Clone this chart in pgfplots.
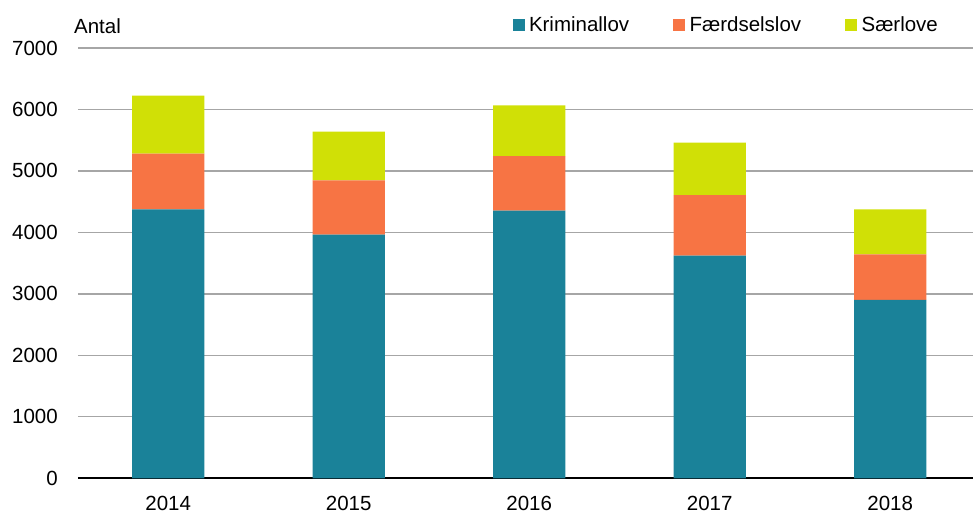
\documentclass[border=0pt]{standalone}
\usepackage{fontspec}
\setmainfont{Liberation Sans}
\usepackage{pgfplots}
\pgfplotsset{compat=1.18}
\definecolor{krim}{HTML}{1A8299}
\definecolor{faerd}{HTML}{F77444}
\definecolor{saer}{HTML}{D0E006}
\definecolor{gridc}{HTML}{A6A6A6}
\begin{document}
\begin{tikzpicture}
\begin{axis}[
  name=ax,
  at={(0,0)}, anchor=south west,
  scale only axis,
  width=896bp, height=430.7bp,
  ybar stacked,
  bar width=0.4,
  xmin=-0.5, xmax=4.46,
  ymin=0, ymax=7000,
  ytick={0,1000,...,7000},
  xtick=data,
  xticklabels={2014,2015,2016,2017,2018},
  /pgf/number format/assume math mode=true,
  /pgf/number format/1000 sep={},
  tick label style={font=\fontsize{20.5bp}{24bp}\selectfont, inner sep=0pt},
  yticklabel style={anchor=east, xshift=-20bp},
  xticklabel style={anchor=north, yshift=-18bp},
  major tick length=0pt,
  axis x line*=bottom, axis y line*=left,
  x axis line style={black, line width=1.6bp, -},
  y axis line style={draw=none},
  ymajorgrids,
  grid style={color=gridc, line width=1.3bp},
  ylabel={Antal},
  ylabel style={rotate=-90, at={(rel axis cs:0,1.0511)}, anchor=west, xshift=-4bp, inner sep=0pt, font=\fontsize{20.5bp}{24bp}\selectfont},
  legend columns=3,
  legend style={at={(rel axis cs:0.4852,1.053)}, anchor=west, draw=none, fill=none, inner sep=0pt,
    font=\fontsize{20.5bp}{24bp}\selectfont,
    nodes={inner sep=0pt, anchor=west},
    /tikz/every odd column/.append style={column sep=4.5bp},
    /tikz/every even column/.append style={column sep=44bp}},
  legend image code/.code={\fill[#1] (0bp,-6bp) rectangle (12bp,6bp);},
]
\addplot+[fill=krim, draw=none] coordinates {(0,4374) (1,3963) (2,4353) (3,3621) (4,2903)};
\addplot+[fill=faerd, draw=none] coordinates {(0,906) (1,883) (2,889) (3,987) (4,741)};
\addplot+[fill=saer, draw=none] coordinates {(0,943) (1,791) (2,823) (3,851) (4,729)};
\legend{Kriminallov,Færdselslov,Særlove}
\end{axis}
\path[use as bounding box] ([xshift=-78bp,yshift=-35.3bp]ax.south west) rectangle ([yshift=48bp]ax.north east);
\end{tikzpicture}
\end{document}
